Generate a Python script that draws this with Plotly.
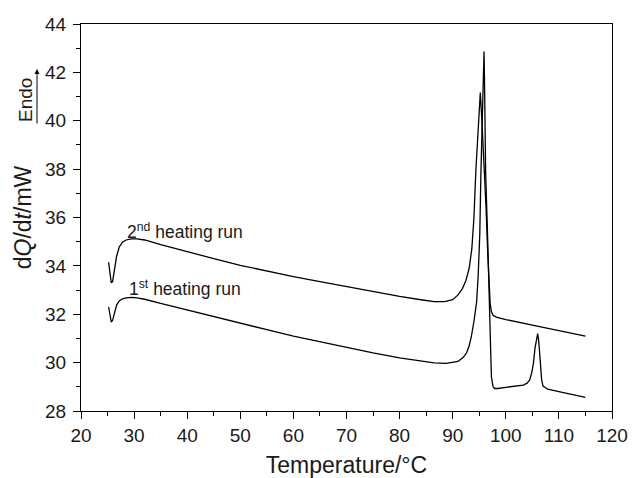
import plotly.graph_objects as go

# 2nd heating run (upper baseline)
t2 = [25.2, 25.45, 25.7, 25.95, 26.3, 26.7, 27.2, 27.8, 28.5, 29.5, 30.5, 32, 35, 40, 45, 50, 55, 60,
      65, 70, 75, 80, 84, 86.5, 88.5, 90, 91, 91.8, 92.5, 93.1, 93.6, 94.0, 94.35, 94.7, 95.0, 95.2,
      95.5, 95.75, 96.0, 96.3, 96.6, 96.85, 97.05, 97.3, 97.6, 98.2, 100, 105, 110, 115]
q2 = [34.15, 33.7, 33.3, 33.35, 33.9, 34.4, 34.78, 34.98, 35.07, 35.12, 35.12, 35.07, 34.88, 34.58,
      34.3, 34.02, 33.78, 33.56, 33.35, 33.14, 32.94, 32.74, 32.6, 32.52, 32.52, 32.6, 32.8, 33.05,
      33.4, 33.9, 34.7, 36.0, 37.9, 39.4, 40.6, 41.17, 40.0, 39.0, 38.0, 36.3, 34.5, 33.2, 32.45,
      32.1, 31.96, 31.88, 31.78, 31.55, 31.33, 31.1]

# 1st heating run (lower baseline)
t1 = [25.2, 25.45, 25.7, 25.95, 26.3, 26.7, 27.2, 27.8, 28.5, 29.5, 30.5, 32, 35, 40, 45, 50, 55, 60,
      65, 70, 75, 80, 84, 86.5, 88.8, 90, 91, 92, 92.6, 93.1, 93.5, 94.0, 94.5, 94.8, 95.1, 95.3, 95.5,
      95.7, 95.9, 96.0, 96.2, 96.6, 97.0, 97.15, 97.3, 97.6, 97.9, 98.5, 100, 102, 103.3, 104.0, 104.5,
      104.9, 105.2, 105.5, 105.8, 106.0, 106.2, 106.5, 106.75, 107.0, 107.9, 110, 115]
q1 = [32.3, 31.95, 31.68, 31.75, 32.1, 32.38, 32.55, 32.64, 32.68, 32.7, 32.68, 32.62, 32.45, 32.17,
      31.89, 31.62, 31.36, 31.1, 30.86, 30.62, 30.4, 30.2, 30.06, 29.99, 29.97, 30.0, 30.05, 30.22,
      30.4, 30.7, 31.07, 31.7, 32.5, 33.6, 35.3, 37.7, 39.8, 41.6, 42.86, 41.5, 37.9, 35.0, 32.4,
      30.5, 29.4, 29.0, 28.93, 28.93, 28.98, 29.03, 29.07, 29.15, 29.28, 29.6, 29.97, 30.6, 31.05,
      31.2, 30.9, 29.83, 29.3, 29.03, 28.9, 28.8, 28.56]

x_ticks = [20, 30, 40, 50, 60, 70, 80, 90, 100, 110, 120]
y_ticks = [28, 30, 32, 34, 36, 38, 40, 42, 44]

FONT = "Liberation Sans, Arial, sans-serif"
INK = "#1a1a1a"

L, R, T, B = 81, 20, 24, 67
W, H = 632, 478
PW, PH = W - L - R, H - T - B

fig = go.Figure()
fig.add_trace(go.Scatter(x=t2, y=q2, mode="lines", line=dict(color="black", width=1.3),
                         name="2nd heating run", showlegend=False))
fig.add_trace(go.Scatter(x=t1, y=q1, mode="lines", line=dict(color="black", width=1.3),
                         name="1st heating run", showlegend=False))

axis_common = dict(showline=True, linecolor="black", linewidth=1, mirror=True,
                   ticks="outside", ticklen=7, tickcolor="black", tickwidth=1,
                   showgrid=False, zeroline=False, automargin=False,
                   tickfont=dict(family=FONT, size=19, color=INK))

fig.update_xaxes(range=[20, 120], tickvals=x_ticks, ticktext=[str(v) for v in x_ticks],
                 minor=dict(dtick=5, ticks="outside", ticklen=4, tickcolor="black"),
                 title=dict(text="Temperature/°C", font=dict(family=FONT, size=23, color=INK),
                            standoff=13),
                 **axis_common)
fig.update_yaxes(range=[28, 44], tickvals=y_ticks, ticktext=[str(v) for v in y_ticks],
                 ticklabelstandoff=3,
                 minor=dict(dtick=1, ticks="outside", ticklen=4, tickcolor="black"),
                 title=dict(text="d<i>Q</i>/d<i>t</i>/mW", font=dict(family=FONT, size=23, color=INK),
                            standoff=7),
                 **axis_common)

fig.add_annotation(x=28.3, y=35.45, xref="x", yref="y", text="2<sup>nd</sup> heating run",
                   showarrow=False, xanchor="left", yanchor="middle",
                   font=dict(family=FONT, size=17.5, color=INK))
fig.add_annotation(x=28.7, y=33.1, xref="x", yref="y", text="1<sup>st</sup> heating run",
                   showarrow=False, xanchor="left", yanchor="middle",
                   font=dict(family=FONT, size=17.5, color=INK))

# Endo label with arrow
fig.add_annotation(x=(26 - L) / PW, y=(H - B - 100) / PH, xref="paper", yref="paper",
                   text="Endo", textangle=-90, showarrow=False,
                   xanchor="center", yanchor="middle",
                   font=dict(family=FONT, size=19, color=INK))
fig.add_annotation(x=(37 - L) / PW, y=(H - B - 69) / PH, xref="paper", yref="paper",
                   text="", showarrow=True, ax=0, ay=56, axref="pixel", ayref="pixel",
                   arrowhead=2, arrowsize=1, arrowwidth=1, arrowcolor="black")

fig.update_layout(width=W, height=H, margin=dict(l=L, r=R, t=T, b=B),
                  plot_bgcolor="white", paper_bgcolor="white", showlegend=False)

fig.write_html("out.html", config={"displayModeBar": False},
               post_script="document.body.style.margin='0';document.body.style.padding='0';")
